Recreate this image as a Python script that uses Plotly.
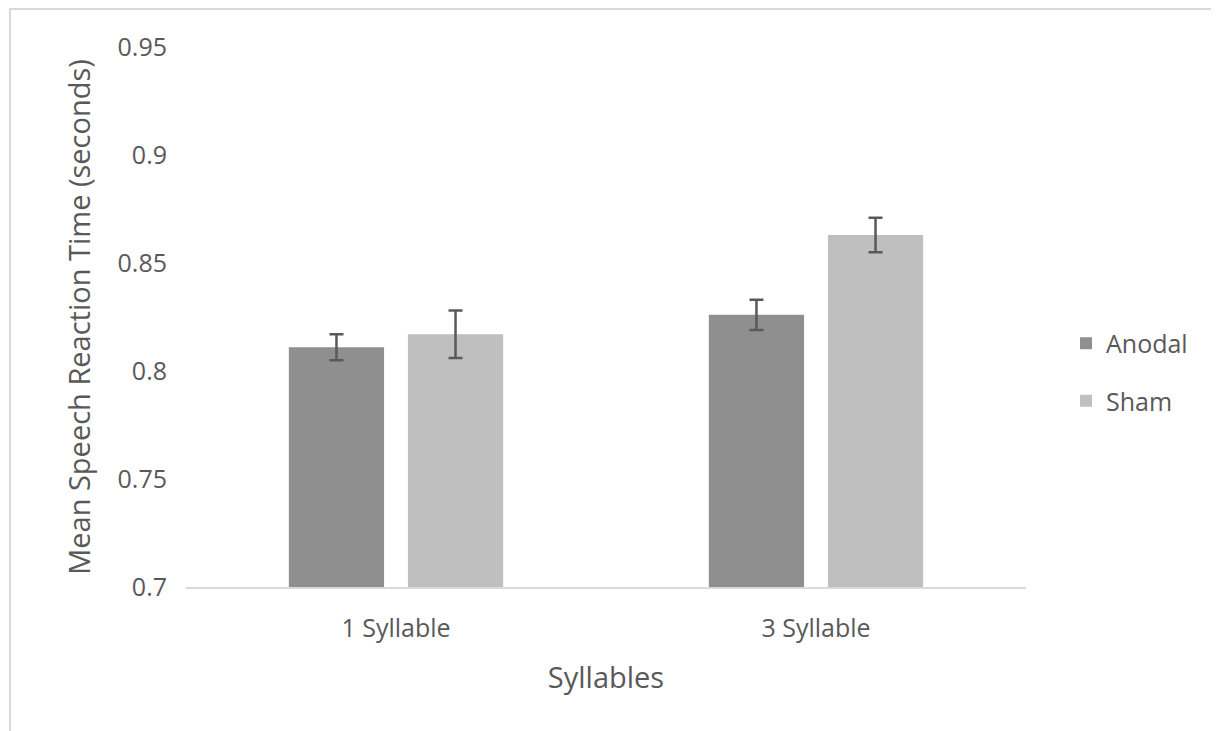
import plotly.graph_objects as go

categories = ["1 Syllable", "3 Syllable"]
anodal = [0.811, 0.826]
anodal_err = [0.006, 0.007]
sham = [0.817, 0.863]
sham_err = [0.011, 0.008]
y_ticks = [0.7, 0.75, 0.8, 0.85, 0.9, 0.95]
y_ticktext = ["0.7", "0.75", "0.8", "0.85", "0.9", "0.95"]

W, H = 1219, 731
OFF = 8  # page body margin offset
L, T = 186 - OFF, 47 - OFF
pw, ph = 840, 540
R, B = W - L - pw, H - T - ph

txt = "#595959"
font = "Open Sans, Lato, sans-serif"

fig = go.Figure()
fig.add_trace(go.Bar(
    x=categories, y=anodal, name="Anodal", legendgroup="a",
    marker=dict(color="#8f8f8f", line=dict(width=0)),
    error_y=dict(type="data", array=anodal_err, color=txt, thickness=2.5, width=7),
))
fig.add_trace(go.Bar(
    x=categories, y=sham, name="Sham", legendgroup="s",
    marker=dict(color="#bfbfbf", line=dict(width=0)),
    error_y=dict(type="data", array=sham_err, color=txt, thickness=2.5, width=7),
))

# outer chart border (top and left edges visible)
bx = (10 - OFF - L) / pw
by = (H - B - (9 - OFF)) / ph
fig.add_shape(type="path", xref="paper", yref="paper",
              path=f"M {bx} -0.5 L {bx} {by} L 1.4 {by}",
              line=dict(color="#d9d9d9", width=2))

fig.update_layout(
    width=W, height=H,
    margin=dict(l=L, r=R, t=T, b=B, autoexpand=False),
    paper_bgcolor="white", plot_bgcolor="white",
    barmode="group", bargap=0.433, bargroupgap=0.2,
    font=dict(family=font, color=txt, size=25),
    showlegend=True,
    legend=dict(x=(1066 - OFF - L) / pw, xanchor="left", y=(H - B - (372 - OFF)) / ph, yanchor="middle",
                font=dict(size=25, color=txt), traceorder="grouped", tracegroupgap=22,
                bgcolor="rgba(0,0,0,0)"),
)
fig.update_xaxes(
    showline=True, linecolor="#d9d9d9", linewidth=2, showgrid=False, zeroline=False,
    ticks="", tickfont=dict(size=25, color=txt), ticklabelstandoff=18,
    title=dict(text="Syllables", font=dict(size=29, color=txt), standoff=25),
)
fig.update_yaxes(
    range=[0.7, 0.95], tickvals=y_ticks, ticktext=y_ticktext,
    showline=False, showgrid=False, zeroline=False, ticks="",
    tickfont=dict(size=25, color=txt), ticklabelstandoff=18,
    title=dict(text="Mean Speech Reaction Time (seconds)", font=dict(size=29, color=txt), standoff=18),
)

fig.write_html("out.html")
